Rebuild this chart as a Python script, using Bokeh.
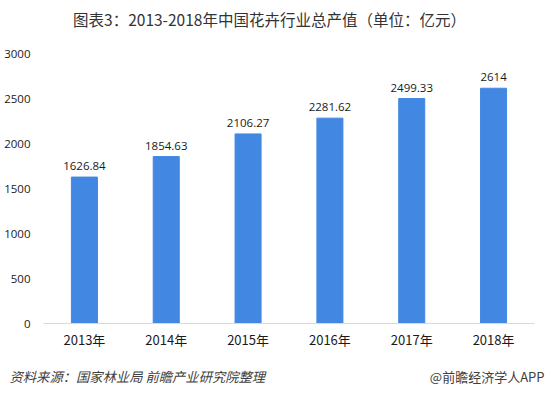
from bokeh.plotting import figure
from bokeh.models import ColumnDataSource, Label, Range1d, FixedTicker
from bokeh.core.properties import value
from bokeh.embed import file_html
from bokeh.resources import INLINE

years = ["2013年", "2014年", "2015年", "2016年", "2017年", "2018年"]
values = [1626.84, 1854.63, 2106.27, 2281.62, 2499.33, 2614]
value_labels = ["1626.84", "1854.63", "2106.27", "2281.62", "2499.33", "2614"]
y_ticks = [0, 500, 1000, 1500, 2000, 2500, 3000]

CJK = "Noto Sans CJK SC"
NUM = "Open Sans"

xpos = [i + 0.5 for i in range(len(years))]
src = ColumnDataSource(dict(x=xpos, top=values, lab=value_labels))

W, H = 545, 393
PX_X = 81.83   # pixels per category
PX_Y = 0.09    # pixels per unit
X0, Y0, YT = 43, 323, 53  # axis start x, zero line y, 3000 line y

p = figure(width=W, height=H, output_backend="svg", toolbar_location=None, title=None,
           x_range=Range1d(-X0 / PX_X, len(years) + (W - X0 - len(years) * PX_X) / PX_X),
           y_range=Range1d(-(H - Y0) / PX_Y, 3000 + YT / PX_Y),
           min_border=0)
p.outline_line_color = None
p.grid.grid_line_color = None
p.background_fill_color = "white"
p.border_fill_color = "white"

p.vbar(x="x", top="top", width=0.318, source=src, color="#4287E1")
p.text(x="x", y="top", text="lab", source=src, text_align="center", text_baseline="bottom",
       y_offset=-7, text_font_size="11.5px", text_color="#1a1a1a", text_font=value(NUM))

yax = p.yaxis[0]
yax.fixed_location = 0
yax.bounds = (0, 3000)
yax.ticker = FixedTicker(ticks=y_ticks)
yax.axis_line_color = None
yax.major_tick_line_color = None
yax.minor_tick_line_color = None
yax.major_tick_out = 0
yax.major_tick_in = 0
yax.minor_tick_out = 0
yax.major_label_standoff = 13
yax.major_label_text_font_size = "11.5px"
yax.major_label_text_color = "#1a1a1a"
yax.major_label_text_font = NUM

xax = p.xaxis[0]
xax.fixed_location = 0
xax.bounds = (0, len(years))
xax.ticker = FixedTicker(ticks=xpos)
xax.major_label_overrides = {x: y for x, y in zip(xpos, years)}
xax.axis_line_color = "#D9D9D9"
xax.axis_line_width = 1
xax.major_tick_line_color = None
xax.minor_tick_line_color = None
xax.major_tick_out = 0
xax.major_tick_in = 0
xax.minor_tick_out = 0
xax.major_label_standoff = 6
xax.major_label_text_font_size = "13px"
xax.major_label_text_color = "#1a1a1a"
xax.major_label_text_font = CJK

p.add_layout(Label(x=269, y=H - 18, x_units="screen", y_units="screen",
                   text="图表3：2013-2018年中国花卉行业总产值（单位：亿元）",
                   text_align="center", text_baseline="middle",
                   text_font=CJK, text_font_size="15.5px", text_color="#333333"))
p.add_layout(Label(x=9, y=H - 375.5, x_units="screen", y_units="screen",
                   text="资料来源：国家林业局 前瞻产业研究院整理",
                   text_align="left", text_baseline="middle", text_font_style="italic",
                   text_font=CJK, text_font_size="13.3px", text_color="#404040"))
p.add_layout(Label(x=W - 1, y=H - 375.5, x_units="screen", y_units="screen",
                   text="@前瞻经济学人APP",
                   text_align="right", text_baseline="middle",
                   text_font=CJK, text_font_size="13px", text_color="#404040"))

open("out.html", "w").write(file_html(p, INLINE))
